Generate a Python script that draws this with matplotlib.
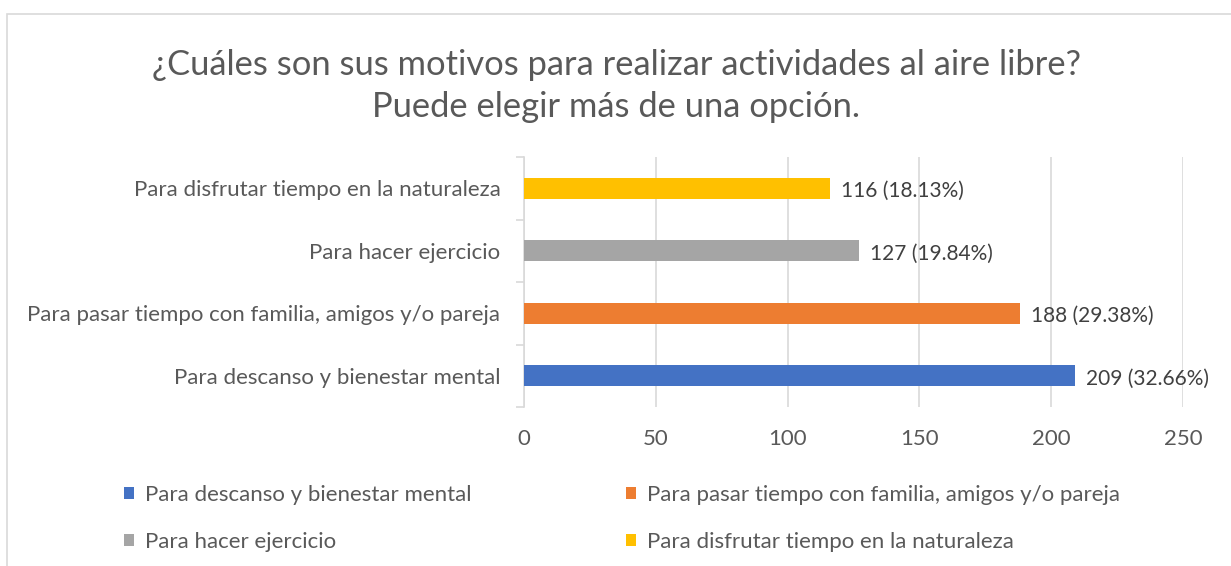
import matplotlib.pyplot as plt
from matplotlib.patches import Rectangle

categories = ["Para descanso y bienestar mental",
              "Para pasar tiempo con familia, amigos y/o pareja",
              "Para hacer ejercicio",
              "Para disfrutar tiempo en la naturaleza"]
values = [209, 188, 127, 116]
percents = [32.66, 29.38, 19.84, 18.13]
colors = ["#4472C4", "#ED7D31", "#A5A5A5", "#FFC000"]
xticks = [0, 50, 100, 150, 200, 250]

TXT = "#595959"
W, H = 1231, 566
plt.rcParams["font.family"] = ["Lato", "DejaVu Sans"]

fig = plt.figure(figsize=(W / 100, H / 100), dpi=100)

# chart frame (cut by the image on the right / bottom)
fig.patches.append(Rectangle((7 / W, -0.05), 1.1, 1 - 14 / H - (-0.05),
                             transform=fig.transFigure, fill=False,
                             edgecolor="#d9d9d9", linewidth=1.2))

fig.text(616 / W, 1 - 65 / H, "¿Cuáles son sus motivos para realizar actividades al aire libre?",
         ha="center", va="center", fontsize=24.8, color=TXT)
fig.text(616 / W, 1 - 107 / H, "Puede elegir más de una opción.",
         ha="center", va="center", fontsize=24.8, color=TXT)

ax = fig.add_axes([524 / W, 1 - 407 / H, (1183 - 524) / W, (407 - 157) / H])
y = range(len(categories))
bars = ax.barh(y, values, height=0.33, color=colors, zorder=3)

for b, v, p in zip(bars, values, percents):
    ax.annotate(f"{v} ({p:.2f}%)", (b.get_width(), b.get_y() + b.get_height() / 2),
                xytext=(8, -2), textcoords="offset points", va="center",
                fontsize=15, color="#404040")

ax.set_xlim(0, 250)
ax.set_ylim(-0.5, len(categories) - 0.5)
ax.set_xticks(xticks)
ax.set_yticks(list(y))
ax.set_yticklabels(categories)
ax.set_yticks([i - 0.5 for i in range(len(categories) + 1)], minor=True)
ax.grid(axis="x", color="#d9d9d9", linewidth=1.2, zorder=0)
for s in ["top", "right", "bottom"]:
    ax.spines[s].set_visible(False)
ax.spines["left"].set_color("#d9d9d9")
ax.spines["left"].set_linewidth(1.2)
ax.tick_params(axis="y", which="major", length=0, pad=17, labelsize=16, labelcolor=TXT)
ax.tick_params(axis="y", which="minor", length=6, width=1.2, color="#d9d9d9")
ax.tick_params(axis="x", length=0, pad=16, labelsize=16, labelcolor=TXT)

order = [0, 2, 1, 3]
handles = [bars[i] for i in order]
labels = [categories[i] for i in order]
fig.legend(handles, labels, ncol=2, loc="upper left",
           bbox_to_anchor=(104 / W, 1 - 465 / H), frameon=False,
           fontsize=16, labelcolor=TXT, handlelength=0.45, handleheight=0.45,
           handletextpad=0.5, columnspacing=6.95, labelspacing=1.2)

fig.savefig("out.png", dpi=100)
